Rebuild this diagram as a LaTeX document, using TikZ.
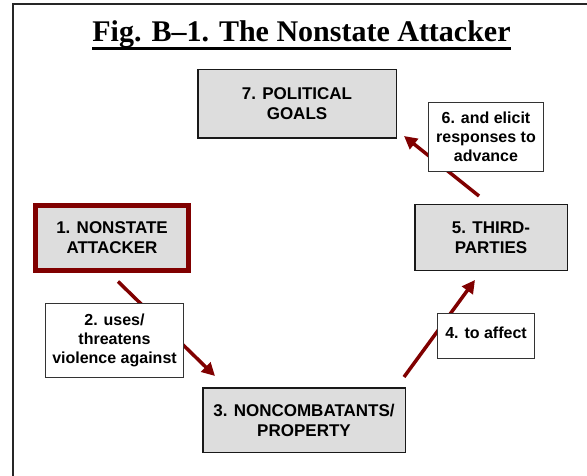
\documentclass[tikz,border=0pt]{standalone}
\usepackage{fontspec}
\setmainfont{Liberation Sans}
\newfontfamily\titlefont{Liberation Serif}
\usetikzlibrary{arrows.meta}
\definecolor{boxgray}{HTML}{DDDDDD}
\definecolor{attackred}{HTML}{800000}
\tikzset{
  >={Triangle[length=13pt,width=13pt]},
  stagebox/.style={draw=black!90,line width=1.5pt,fill=boxgray,align=center,
    inner sep=0pt,font=\fontsize{17}{20}\selectfont\bfseries},
  attackbox/.style={stagebox,draw=attackred,line width=5pt},
  flow/.style={->,draw=attackred,fill=attackred,line width=3.5pt},
  flowlbl/.style={draw=black!80,line width=1.2pt,fill=white,align=center,
    inner sep=0pt,font=\fontsize{16}{19}\selectfont\bfseries},
  frameline/.style={line width=1.6pt,black!85},
  titlelbl/.style={font=\titlefont\fontsize{30}{36}\selectfont\bfseries,
    inner sep=0pt,anchor=base},
}
\begin{document}
\begin{tikzpicture}[x=1pt,y=-1pt]
  \useasboundingbox (0,0) rectangle (587,476);
  \draw[frameline] (13,476) |- (587,4);
  \node[titlelbl] (title) at (301.5,42) {Fig. B\textendash1. The Nonstate Attacker};
  \draw[line width=2.8pt] ([yshift=-6.5pt]title.base west) -- ([yshift=-6.5pt]title.base east);

  \node[stagebox,minimum width=198.5pt,minimum height=68.5pt] (goals) at (297,104)
    {7. POLITICAL\\GOALS};
  \node[attackbox,minimum width=153pt,minimum height=65pt] (attacker) at (112,238)
    {1. NONSTATE\\ATTACKER};
  \node[stagebox,minimum width=152.5pt,minimum height=65.5pt] (third) at (491,237.5)
    {5. THIRD-\\PARTIES};
  \node[stagebox,minimum width=202.5pt,minimum height=64.5pt] (victims) at (304,420)
    {3. NONCOMBATANTS/\\PROPERTY};

  \draw[flow] ([xshift=6pt,yshift=-8.5pt]attacker.south)
    -- ([xshift=13pt,yshift=11pt]victims.north west);
  \draw[flow] ([xshift=-2pt,yshift=10pt]victims.north east)
    -- ([xshift=-16pt,yshift=-9pt]third.south);
  \draw[flow] ([xshift=-12pt,yshift=8pt]third.north)
    -- ([xshift=7pt,yshift=3pt]goals.south east);

  \node[flowlbl,minimum width=137.8pt,minimum height=73.8pt] (uses) at (114.5,340.5)
    {2. uses/\\threatens\\violence against};
  \node[flowlbl,minimum width=96.8pt,minimum height=44.8pt,text height=12pt,
    text depth=8pt] (affect) at (486,336) {4. to affect};
  \node[flowlbl,minimum width=114.8pt,minimum height=68.8pt] (elicit) at (486,137)
    {6. and elicit\\responses to\\advance};
\end{tikzpicture}
\end{document}
